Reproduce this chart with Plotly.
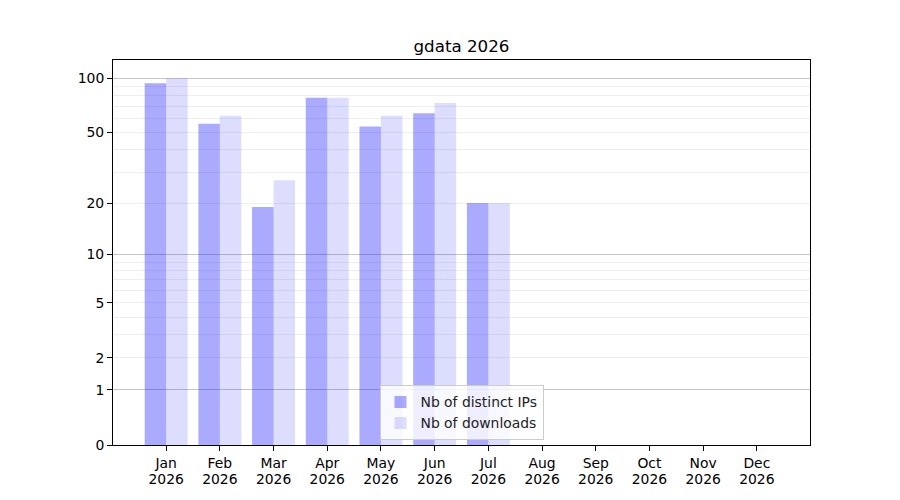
import numpy as np
import plotly.graph_objects as go

months = ["Jan", "Feb", "Mar", "Apr", "May", "Jun", "Jul", "Aug", "Sep", "Oct", "Nov", "Dec"]
year = "2026"
distinct_ips = [94, 56, 19, 78, 54, 64, 20, 0, 0, 0, 0, 0]
downloads = [100, 62, 27, 78, 62, 73, 20, 0, 0, 0, 0, 0]
y_labels = [0, 1, 2, 5, 10, 20, 50, 100]
major_grid = [1, 10, 100]
minor_grid = [2, 3, 4, 5, 6, 7, 8, 9, 20, 30, 40, 50, 60, 70, 80, 90]


def tr(v):
    return np.log10(1 + np.asarray(v, dtype=float))


x = list(range(len(months)))

FONT = "DejaVu Sans"
fig = go.Figure()
fig.add_trace(go.Bar(x=x, y=tr(distinct_ips), name="Nb of distinct IPs",
                     marker=dict(color="rgba(0,0,255,0.333)", line=dict(width=0))))
fig.add_trace(go.Bar(x=x, y=tr(downloads), name="Nb of downloads",
                     marker=dict(color="rgba(0,0,255,0.135)", line=dict(width=0))))

ymax = tr(100) * 1.05
yr = [0, float(ymax)]
xr = [-0.99, 11.99]

fig.update_layout(
    width=892, height=492,
    margin=dict(l=104.5, r=90, t=52, b=55),
    paper_bgcolor="white", plot_bgcolor="white",
    font=dict(family=FONT, size=13.9, color="black"),
    title=dict(text="gdata 2026", x=0.5, xanchor="center", xref="paper",
               y=1 - 38 / 492, yref="container", yanchor="middle",
               font=dict(family=FONT, size=16.7, color="black")),
    barmode="group", bargap=0.2, bargroupgap=0,
    showlegend=True,
    legend=dict(x=0.5, xanchor="center", y=0.012, yanchor="bottom",
                bgcolor="rgba(255,255,255,0.8)", bordercolor="#cccccc", borderwidth=1,
                font=dict(family=FONT, size=13.9, color="#222222"),
                tracegroupgap=0),
    xaxis=dict(range=xr, tickmode="array", tickvals=x, ticktext=months,
               showgrid=False, zeroline=False, showline=True, mirror=True,
               linecolor="black", linewidth=1, ticks="outside", ticklen=5,
               tickwidth=1, tickcolor="black"),
    xaxis2=dict(range=xr, overlaying="x", side="bottom", tickmode="array", tickvals=x,
                ticktext=[year] * len(months), showgrid=False, zeroline=False,
                showline=False, ticks="", ticklabelstandoff=24),
    yaxis=dict(range=yr, tickmode="array", tickvals=tr(y_labels).tolist(),
               ticktext=[str(v) for v in y_labels],
               showgrid=False, zeroline=False, showline=True, mirror=True,
               linecolor="black", linewidth=1, ticks="outside", ticklen=5,
               tickwidth=1, tickcolor="black",
               minor=dict(tickmode="array", tickvals=tr(minor_grid).tolist(),
                          showgrid=True, gridcolor="#efefef", gridwidth=1, ticks="")),
    yaxis2=dict(range=yr, overlaying="y", side="left", tickmode="array",
                tickvals=tr(major_grid).tolist(), showticklabels=False, ticks="",
                showgrid=True, gridcolor="#c6c6c6", gridwidth=1, zeroline=False,
                showline=False),
)
# invisible trace to activate the overlay axes (major gridlines, year labels)
fig.add_trace(go.Scatter(x=[0], y=[0], xaxis="x2", yaxis="y2", mode="markers",
                         marker=dict(opacity=0), showlegend=False, hoverinfo="skip"))

fig.write_html("out.html")
